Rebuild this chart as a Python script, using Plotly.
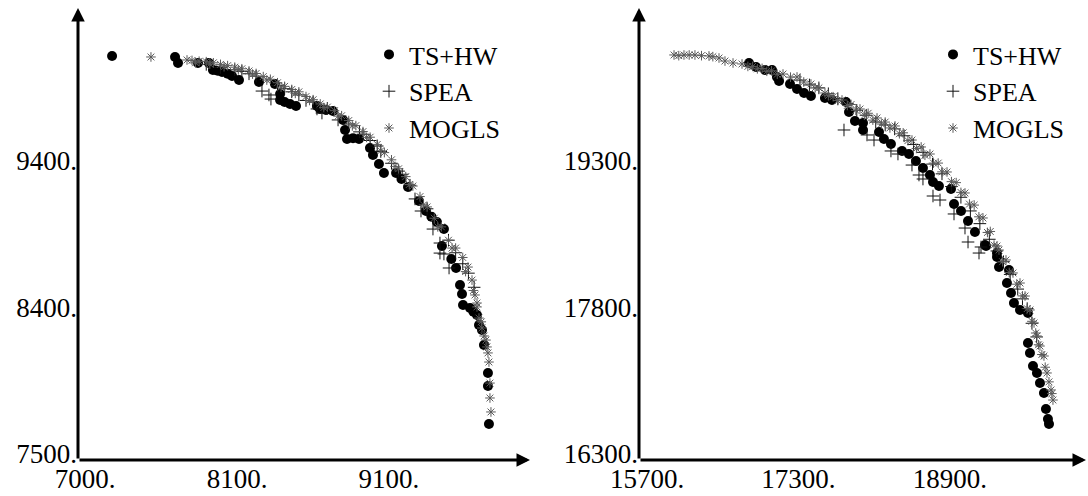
import plotly.graph_objects as go

# ---------------- data: left panel (250 items) ----------------
TS1_X = [7239, 7681, 7702, 7842, 7919, 7947, 7980, 8011, 8050, 8081, 8130, 8270, 8382, 8418, 8418, 8450, 8488, 8530,
         8677, 8698, 8740, 8789, 8860, 8874, 8888, 8930, 8972, 9049, 9070, 9112, 9147, 9232, 9270, 9316, 9393, 9442,
         9480, 9519, 9568, 9554, 9620, 9653, 9681, 9695, 9702, 9751, 9775, 9800, 9814, 9835, 9849, 9877, 9877, 9884]
TS1_Y = [10073, 10067, 10029, 10029, 10029, 9984, 9980, 9971, 9960, 9946, 9920, 9908, 9895, 9831, 9793, 9780, 9768, 9755,
         9755, 9736, 9730, 9723, 9666, 9602, 9545, 9550, 9545, 9487, 9443, 9385, 9328, 9328, 9290, 9239, 9150, 9086,
         9050, 9016, 8971, 8863, 8780, 8723, 8615, 8557, 8487, 8468, 8445, 8424, 8360, 8328, 8232, 8054, 7971, 7729]

SP1_X = [7900, 8000, 8100, 8200, 8291, 8340, 8354, 8400, 8500, 8600, 8677, 8712, 8750, 8825, 8900, 8975, 9050, 9125,
         9200, 9275, 9365, 9407, 9450, 9491, 9540, 9568, 9540, 9604, 9650, 9700, 9740, 9780,
         8150, 8250, 8450, 8550, 8650, 9000, 9100, 9250, 9330, 9600]
SP1_Y = [10020, 10000, 9985, 9960, 9850, 9825, 9799, 9885, 9845, 9790, 9736, 9710, 9740, 9666, 9640, 9590, 9535, 9465,
         9390, 9320, 9163, 9086, 9100, 8971, 8882, 8812, 8818, 8723, 8820, 8750, 8690, 8600,
         9975, 9945, 9865, 9825, 9780, 9575, 9500, 9340, 9250, 8900]

MG1_X = [7512, 7765, 7800, 7850, 7900, 7950, 8000, 8050, 8100, 8150, 8200, 8250, 8300, 8350, 8400, 8450, 8500, 8550,
         8600, 8650, 8700, 8750, 8800, 8850, 8900, 8950, 9000, 9050, 9100, 9150, 9200, 9250, 9300, 9350, 9400, 9450,
         9500, 9550, 9600, 9650, 9700, 9737, 9765, 9786, 9800, 9814, 9835, 9850, 9863, 9877, 9884, 9891, 9891, 9898,
         7825, 7925, 8025, 8125, 8225, 8325, 8425, 8525, 8625, 8725, 8825, 8925, 9025, 9125, 9225, 9325, 9425, 9525,
         9625, 9720, 9775, 9800, 9830, 9870]
MG1_Y = [10067, 10048, 10045, 10040, 10037, 10030, 10020, 10012, 10002, 9992, 9978, 9962, 9942, 9925, 9903, 9880, 9860,
         9845, 9815, 9795, 9768, 9748, 9725, 9693, 9662, 9630, 9592, 9556, 9510, 9458, 9412, 9355, 9305, 9245, 9178,
         9112, 9040, 8985, 8900, 8850, 8790, 8729, 8646, 8551, 8475, 8404, 8341, 8290, 8264, 8182, 8124, 7990, 7895, 7806,
         10030, 10022, 10005, 9985, 9958, 9920, 9875, 9835, 9790, 9745, 9690, 9628, 9555, 9470, 9370, 9255, 9125, 8985,
         8850, 8700, 8580, 8500, 8380, 8220]

# ---------------- data: right panel (500 items) ----------------
TS2_X = [16862, 16936, 17031, 17105, 17157, 17179, 17295, 17369, 17443, 17516, 17664, 17738, 17886, 17918, 17981,
         18066, 18066, 18235, 18287, 18361, 18478, 18551, 18625, 18699, 18773, 18805, 18868, 18995, 19027, 19101,
         19175, 19248, 19365, 19481, 19354, 19481, 19502, 19608, 19586, 19629, 19660, 19724, 19808, 19808, 19829,
         19861, 19903, 19935, 19977, 19998, 20019, 20030]
TS2_Y = [20365, 20324, 20293, 20293, 20222, 20181, 20150, 20099, 20058, 20027, 20007, 19986, 19966, 19863, 19771,
         19751, 19679, 19658, 19587, 19536, 19464, 19433, 19361, 19290, 19218, 19146, 19105, 19075, 18921, 18850,
         18747, 18634, 18491, 18419, 18501, 18378, 18276, 18245, 18112, 18010, 17908, 17836, 17805, 17498, 17396,
         17262, 17191, 17088, 16986, 16822, 16720, 16669]

SP2_X = [17865, 18108, 18182, 18361, 18435, 18583, 18657, 18699, 18805, 18879, 19027, 19143, 19175, 19291, 19312,
         17400, 17600, 17800, 18000, 18200, 18400, 18600, 18800, 19000, 19200, 19400, 19550, 19700, 19800, 19900,
         17500, 17700, 17900, 18100, 18300, 18500, 18700, 18900, 19100, 19300, 19480, 19620, 19750, 19850]
SP2_Y = [19679, 19628, 19576, 19464, 19433, 19320, 19218, 19177, 19003, 18962, 18819, 18675, 18532, 18419, 18481,
         20190, 20110, 20000, 19880, 19760, 19690, 19530, 19330, 19100, 18850, 18560, 18330, 18050, 17850, 17560,
         20140, 20050, 19950, 19830, 19730, 19620, 19450, 19230, 18990, 18720, 18440, 18200, 17950, 17700]

MG2_X = [16070, 16175, 16291, 16439, 16545, 16608, 16693, 16788, 16900, 17000, 17100, 17221, 17369, 17516, 17600,
         17664, 17750, 17844, 17940, 18034, 18120, 18214, 18300, 18404, 18490, 18583, 18680, 18773, 18860, 18953,
         19050, 19143, 19240, 19333, 19410, 19481, 19502, 19576, 19650, 19724, 19777, 19829, 19872, 19903, 19935,
         19977, 20009, 20051, 20072,
         16120, 16230, 16360, 16480, 16850, 16950, 17050, 17160, 17300, 17440, 17560, 17700, 17800, 17900, 17990,
         18080, 18170, 18260, 18350, 18450, 18540, 18630, 18720, 18810, 18900, 19000, 19100, 19190, 19290, 19380,
         19450, 19540, 19610, 19690, 19750, 19800, 19850, 19890, 19920, 19955, 19990, 20030, 20060]
MG2_Y = [20447, 20447, 20447, 20437, 20416, 20385, 20365, 20355, 20330, 20310, 20285, 20252, 20222, 20150, 20110,
         20058, 20020, 19986, 19940, 19894, 19850, 19802, 19760, 19720, 19650, 19576, 19505, 19433, 19340, 19249,
         19140, 19034, 18910, 18778, 18640, 18491, 18450, 18348, 18215, 18112, 17979, 17836, 17703, 17570, 17467,
         17365, 17191, 17017, 16914,
         20440, 20447, 20440, 20430, 20330, 20305, 20280, 20250, 20220, 20170, 20110, 20030, 19980, 19930, 19880,
         19830, 19780, 19740, 19700, 19640, 19570, 19490, 19420, 19340, 19250, 19150, 19040, 18920, 18790, 18630,
         18500, 18330, 18220, 18100, 17980, 17850, 17720, 17600, 17480, 17380, 17250, 17100, 16980]

SERIES = ["TS+HW", "SPEA", "MOGLS"]

# ticks (equally spaced, labels rounded as printed in the figure)
X1_TICKS = [7000, 8066.67, 9133.33]
X1_TEXT = ["7000.", "8100.", "9100."]
Y1_TICKS = [7500, 8433.33, 9366.67]
Y1_TEXT = ["7500.", "8400.", "9400."]
X2_TICKS = [15700, 17300, 18900]
X2_TEXT = ["15700.", "17300.", "18900."]
Y2_TICKS = [16300, 17800, 19300]
Y2_TEXT = ["16300.", "17800.", "19300."]

X1_RANGE = [7000, 10172]
Y1_RANGE = [7500, 10379]
X2_RANGE = [15700, 20421]
Y2_RANGE = [16300, 20928]

FONT = "Liberation Serif, Times New Roman, serif"
W, H = 1088, 496


def px(v):
    return v / W


def py(v):
    return 1 - v / H


fig = go.Figure()

styles = [
    dict(symbol="circle", size=10, color="black"),
    dict(symbol="cross-thin-open", size=9, color="#111111", line=dict(width=1, color="#111111")),
    dict(symbol="asterisk-open", size=8, color="#5a5a5a", line=dict(width=1, color="#5a5a5a")),
]

panels = [
    ("x", "y", "legend", [(TS1_X, TS1_Y), (SP1_X, SP1_Y), (MG1_X, MG1_Y)]),
    ("x2", "y2", "legend2", [(TS2_X, TS2_Y), (SP2_X, SP2_Y), (MG2_X, MG2_Y)]),
]
for xa, ya, lg, data in panels:
    for name, (xs, ys), st in zip(SERIES, data, styles):
        fig.add_trace(go.Scatter(x=xs, y=ys, mode="markers", name=name, marker=st,
                                 xaxis=xa, yaxis=ya, legend=lg))

axis_common = dict(showgrid=False, zeroline=False, showline=False, ticks="",
                   tickfont=dict(family=FONT, size=27, color="black"), automargin=False)

fig.update_layout(
    width=W, height=H,
    margin=dict(l=0, r=0, t=0, b=0),
    paper_bgcolor="white", plot_bgcolor="white",
    font=dict(family=FONT, size=26, color="black"),
    xaxis=dict(domain=[px(78), px(530)], range=X1_RANGE, tickvals=X1_TICKS, ticktext=X1_TEXT,
               anchor="y", ticklabelshift=7, **axis_common),
    yaxis=dict(domain=[py(460), py(8)], range=Y1_RANGE, tickvals=Y1_TICKS, ticktext=Y1_TEXT,
               anchor="x", ticklabelshift=-6, **axis_common),
    xaxis2=dict(domain=[px(639), px(1086)], range=X2_RANGE, tickvals=X2_TICKS, ticktext=X2_TEXT,
                anchor="y2", ticklabelshift=8, **axis_common),
    yaxis2=dict(domain=[py(460), py(8)], range=Y2_RANGE, tickvals=Y2_TICKS, ticktext=Y2_TEXT,
                anchor="x2", ticklabelshift=-6, **axis_common),
    legend=dict(x=px(369), y=py(31), xanchor="left", yanchor="top", bgcolor="rgba(0,0,0,0)",
                font=dict(family=FONT, size=26, color="black")),
    legend2=dict(x=px(933), y=py(31), xanchor="left", yanchor="top", bgcolor="rgba(0,0,0,0)",
                 font=dict(family=FONT, size=26, color="black")),
    showlegend=True,
)

# axes drawn as arrows from the origin
for xr, yr, xrng, yrng in [("x", "y", X1_RANGE, Y1_RANGE), ("x2", "y2", X2_RANGE, Y2_RANGE)]:
    fig.add_annotation(xref=xr, yref=yr, axref=xr, ayref=yr, x=xrng[1], y=yrng[0], ax=xrng[0], ay=yrng[0],
                       text="", showarrow=True, arrowhead=2, arrowsize=0.9, arrowwidth=3, arrowcolor="black")
    fig.add_annotation(xref=xr, yref=yr, axref=xr, ayref=yr, x=xrng[0], y=yrng[1], ax=xrng[0], ay=yrng[0],
                       text="", showarrow=True, arrowhead=2, arrowsize=0.9, arrowwidth=3, arrowcolor="black")

fig.write_html("out.html", config={"displayModeBar": False},
               post_script="document.body.style.margin='0';document.body.style.overflow='hidden';")
